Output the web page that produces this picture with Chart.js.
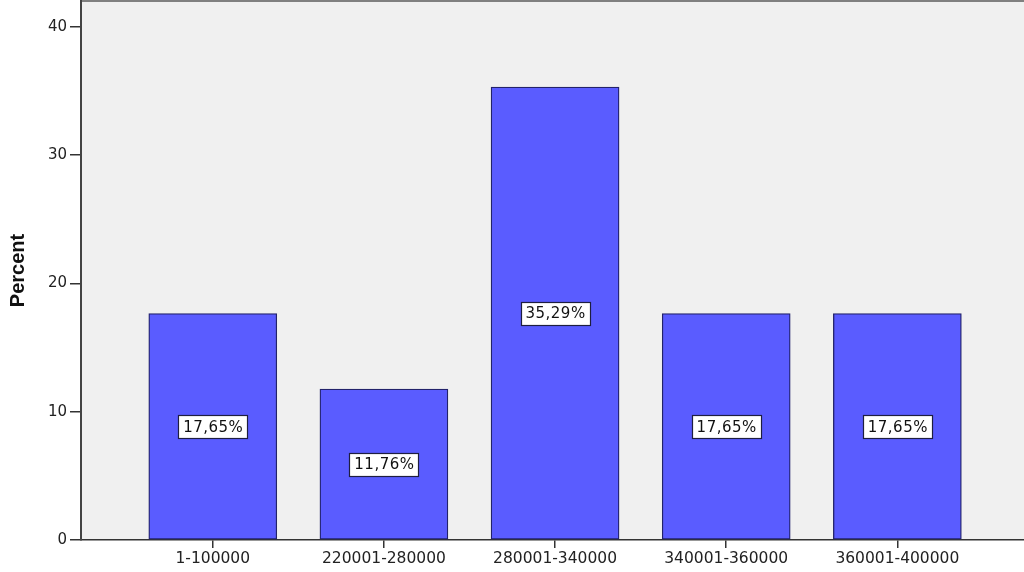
<!DOCTYPE html>
<html>
<head>
<meta charset="utf-8">
<script src="https://cdn.jsdelivr.net/npm/chart.js@4.4.1/dist/chart.umd.min.js"></script>
<style>
  html, body { margin: 0; padding: 0; background: #ffffff; }
  #wrap { width: 1024px; height: 572px; position: relative; }
</style>
</head>
<body>
<div id="wrap"><canvas id="c"></canvas></div>
<script>
const categories = ["1-100000", "220001-280000", "280001-340000", "340001-360000", "360001-400000"];
const percentValues = [17.65, 11.76, 35.29, 17.65, 17.65];
const valueLabels = ["17,65%", "11,76%", "35,29%", "17,65%", "17,65%"];
const yTicks = [0, 10, 20, 30, 40];

const points = percentValues.map((v, i) => ({ x: i, y: v }));

const bgPlugin = {
  id: 'plotBg',
  beforeDraw(chart) {
    const { ctx, chartArea: a } = chart;
    ctx.save();
    ctx.fillStyle = '#f0f0f0';
    ctx.fillRect(a.left, a.top, a.right - a.left, a.bottom - a.top);
    ctx.fillStyle = '#808080';
    ctx.fillRect(a.left, 0, a.right - a.left, 2);
    ctx.restore();
  }
};

const labelPlugin = {
  id: 'boxLabels',
  afterDatasetsDraw(chart) {
    const { ctx } = chart;
    const meta = chart.getDatasetMeta(0);
    const yScale = chart.scales.y;
    ctx.save();
    ctx.font = '15px "DejaVu Sans", sans-serif';
    try { ctx.letterSpacing = '0.5px'; } catch (e) {}
    ctx.textAlign = 'center';
    ctx.textBaseline = 'middle';
    meta.data.forEach((bar, i) => {
      const cx = bar.x;
      const cy = yScale.getPixelForValue(percentValues[i] / 2);
      const text = valueLabels[i];
      const w = 69;
      const h = 23;
      const x0 = Math.round(cx - w / 2) + 0.5;
      const y0 = Math.round(cy - h / 2) + 0.5;
      ctx.fillStyle = '#ffffff';
      ctx.fillRect(x0, y0, w, h);
      ctx.strokeStyle = '#1e1e40';
      ctx.lineWidth = 1.2;
      ctx.strokeRect(x0, y0, w, h);
      ctx.fillStyle = '#111111';
      ctx.fillText(text, cx + 0.5, cy + 1);
    });
    ctx.restore();
  }
};

new Chart(document.getElementById('c'), {
  type: 'bar',
  data: {
    datasets: [{
      data: points,
      backgroundColor: '#5a5cff',
      borderColor: '#22226a',
      borderWidth: 1.3,
      borderSkipped: false,
      barThickness: 128
    }]
  },
  options: {
    responsive: true,
    maintainAspectRatio: false,
    animation: false,
    devicePixelRatio: 1,
    layout: { padding: { top: 1, right: 0, left: 0, bottom: 0 } },
    plugins: { legend: { display: false }, tooltip: { enabled: false } },
    scales: {
      x: {
        type: 'linear',
        offset: false,
        min: -0.77,
        max: 4.74,
        afterBuildTicks(scale) { scale.ticks = categories.map((_, i) => ({ value: i })); },
        afterFit(scale) { scale.height = 32; scale.paddingLeft = 0; scale.paddingRight = 0; },
        ticks: {
          autoSkip: false,
          maxRotation: 0,
          padding: 2,
          color: '#222222',
          font: { size: 15.5, family: '"DejaVu Sans", sans-serif' },
          callback: (v) => categories[v] !== undefined ? categories[v] : ''
        },
        grid: { offset: false, drawOnChartArea: false, drawTicks: true, tickLength: 8, color: '#333333', lineWidth: 1.5 },
        border: { display: true, color: '#333333', width: 1.5 }
      },
      y: {
        min: 0,
        max: 42,
        afterBuildTicks(scale) { scale.ticks = yTicks.map(v => ({ value: v })); },
        afterFit(scale) { scale.width = 81; scale.paddingTop = 0; scale.paddingBottom = 0; },
        ticks: {
          padding: 3,
          color: '#222222',
          font: { size: 15, family: '"DejaVu Sans", sans-serif' }
        },
        grid: { drawOnChartArea: false, drawTicks: true, tickLength: 11, color: '#333333', lineWidth: 1.5 },
        border: { display: true, color: '#444444', width: 2 },
        title: {
          display: true,
          text: 'Percent',
          color: '#111111',
          padding: { top: 6, bottom: 0 },
          font: { size: 20, weight: 'bold', family: '"Liberation Sans", Arial, sans-serif' }
        }
      }
    }
  },
  plugins: [bgPlugin, labelPlugin]
});
</script>
</body>
</html>
